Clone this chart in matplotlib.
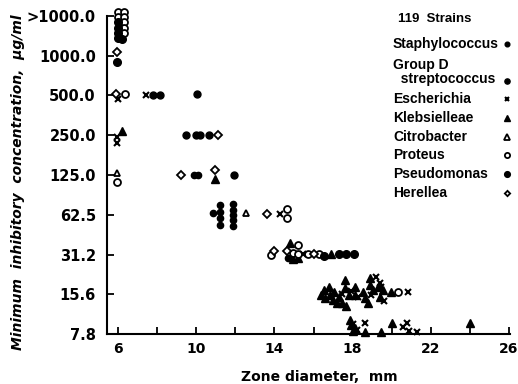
import matplotlib.pyplot as plt
from matplotlib.ticker import FixedLocator, NullLocator

# zone diameter (mm) and MIC (ug/ml); ">1000" is drawn at 2000
staph_zone = [10.85, 11.2, 11.2, 11.2, 11.2, 11.87, 11.87, 11.87, 11.87, 11.87, 14.7, 9.9, 10.1]
staph_mic = [64.4, 74, 66, 59, 52, 75, 68, 62, 57, 51, 29.2, 125, 125]

strep_zone = [7.8, 8.15, 10.05, 9.5, 10.0, 10.2, 10.65, 11.95]
strep_mic = [505, 505, 513, 250, 250, 250, 250, 125]

esch_zone = [6.0, 7.45, 5.95, 5.95, 14.3, 15.45,
             19.2, 19.38, 19.46, 18.96, 19.63, 20.81, 17.9, 18.3, 17.45,
             18.04, 18.62, 20.56, 20.8, 20.9, 21.3, 18.2]
esch_mic = [470, 505, 242, 218, 63.5, 31.3,
            21.2, 19.1, 17.7, 15.4, 13.9, 16.3, 16.5, 14.8, 15.6,
            9.3, 9.4, 8.8, 9.5, 8.2, 8.1, 8.4]

kleb_zone = [6.2, 10.95, 14.8, 14.95, 15.2, 16.9,
             16.36, 16.53, 16.78, 16.86, 17.03, 17.2, 17.62, 17.62, 17.79, 17.66,
             18.13, 18.13, 18.54, 18.63, 18.87, 18.87, 19.05, 19.29, 19.38, 19.55,
             19.97, 17.45, 17.28, 18.8, 16.6, 17.0,
             17.87, 17.94, 18.14, 18.62, 19.45, 20.0, 24.0, 18.0]
kleb_mic = [270, 116, 37.9, 28.7, 29.2, 31.3,
            15.4, 16.8, 17.7, 15.4, 16.3, 13.4, 20.0, 17.3, 15.4, 12.8,
            17.7, 15.4, 16.3, 14.5, 20.6, 18.3, 16.8, 17.7, 14.9, 16.8,
            16.3, 13.4, 14.9, 13.4, 14.6, 14.2,
            9.95, 9.1, 8.6, 8.1, 8.1, 9.4, 9.4, 8.2]

citro_zone = [5.95, 12.55]
citro_mic = [129, 64.4]

proteus_zone = [6.0, 6.3, 6.0, 6.3, 6.3, 6.3, 6.3, 6.35, 5.95, 14.65, 14.65,
                13.85, 15.2, 14.95, 15.2, 15.7, 16.3, 20.3]
proteus_mic = [2150, 2150, 1960, 1960, 1790, 1630, 1490, 510, 111, 69, 59,
               31.0, 36.8, 32.3, 31.5, 31.3, 31.3, 16.3]

pseudo_zone = [6.0, 6.0, 6.0, 6.0, 6.2, 5.95, 16.55, 17.3, 17.65, 18.05]
pseudo_mic = [1790, 1630, 1490, 1360, 1330, 897, 30.5, 31.3, 31.3, 31.3]

herel_zone = [5.93, 5.9, 11.1, 9.2, 10.95, 13.6, 14.0, 14.65, 16.0]
herel_mic = [1067, 510, 250, 125, 136, 63.5, 33.4, 33.4, 31.3]

mic_ticks = [7.8, 15.6, 31.2, 62.5, 125, 250, 500, 1000, 2000]
mic_labels = ["7.8", "15.6", "31.2", "62.5", "125.0", "250.0", "500.0", "1000.0", ">1000.0"]
zone_major = [6, 10, 14, 18, 22, 26]
zone_minor = [8, 12, 16, 20, 24]

groups = [
    ("Staphylococcus", staph_zone, staph_mic, dict(marker="o", ms=4.5, mfc="black", mec="black")),
    ("Group D\n  streptococcus", strep_zone, strep_mic, dict(marker="o", ms=5, mfc="black", mec="black")),
    ("Escherichia", esch_zone, esch_mic, dict(marker="x", ms=4.5, mec="black", mew=1.5)),
    ("Klebsielleae", kleb_zone, kleb_mic, dict(marker="^", ms=5.5, mfc="black", mec="black")),
    ("Citrobacter", citro_zone, citro_mic, dict(marker="^", ms=5, mfc="white", mec="black", mew=1.3)),
    ("Proteus", proteus_zone, proteus_mic, dict(marker="o", ms=5, mfc="white", mec="black", mew=1.3)),
    ("Pseudomonas", pseudo_zone, pseudo_mic, dict(marker="o", ms=5.5, mfc="black", mec="black")),
    ("Herellea", herel_zone, herel_mic, dict(marker="D", ms=3.6, mfc="white", mec="black", mew=1.3)),
]

fig = plt.figure(figsize=(5.18, 3.84), dpi=100)
ax = fig.add_axes([107 / 518, 1 - 334 / 384, 403 / 518, 318 / 384])

for name, zx, my, style in groups:
    ax.plot(zx, my, linestyle="none", clip_on=False, zorder=3, **style)

ax.set_yscale("log", base=2)
ax.set_ylim(7.8, 2000)
ax.set_xlim(5.437, 26.05)

ax.yaxis.set_major_locator(FixedLocator(mic_ticks))
ax.yaxis.set_minor_locator(NullLocator())
ax.set_yticklabels(mic_labels)
ax.xaxis.set_major_locator(FixedLocator(zone_major))
ax.xaxis.set_minor_locator(FixedLocator(zone_minor))
ax.set_xticklabels([str(v) for v in zone_major])

for s in ["top", "right"]:
    ax.spines[s].set_visible(False)
for s in ["left", "bottom"]:
    ax.spines[s].set_linewidth(1.5)

ax.tick_params(axis="both", which="both", direction="in", width=1.3, length=5)
ax.tick_params(axis="y", pad=8)
ax.tick_params(axis="x", pad=6)
for lab in ax.get_yticklabels():
    lab.set_fontweight("bold")
    lab.set_fontsize(10.5)
for lab in ax.get_xticklabels():
    lab.set_fontweight("bold")
    lab.set_fontsize(10)

fig.text(319 / 518, 1 - 377 / 384, "Zone diameter,  mm", ha="center", va="center",
         fontsize=10, fontweight="bold")
fig.text(18 / 518, 1 - 182 / 384, "Minimum  inhibitory  concentration,  \u03bcg/ml",
         ha="center", va="center", rotation=90, fontsize=10, fontweight="bold",
         fontstyle="italic")

# legend drawn by hand: text on the left, marker on the right
def fx(px):
    return (px - 107) / 403


def fy(py):
    return (334 - py) / 318


ax.text(fx(435), fy(19), "119  Strains", transform=ax.transAxes, ha="center", va="center",
        fontsize=9.5, fontweight="bold", family="Liberation Sans")
rows_y = [44, 81, 99, 118, 137, 155, 174, 193]
for (name, zx, my, style), ry in zip(groups, rows_y):
    if "\n" in name:
        ax.text(fx(393), fy(ry - 9), name, transform=ax.transAxes, ha="left", va="center",
                fontsize=10, fontweight="bold", family="Liberation Sans", linespacing=1.05)
    else:
        ax.text(fx(393), fy(ry), name, transform=ax.transAxes, ha="left", va="center",
                fontsize=10, fontweight="bold", family="Liberation Sans")
    st = dict(style)
    st["ms"] = st["ms"] * 0.75
    ax.plot([fx(507)], [fy(ry)], transform=ax.transAxes, linestyle="none",
            clip_on=False, **st)

fig.savefig("out.png", dpi=100)
